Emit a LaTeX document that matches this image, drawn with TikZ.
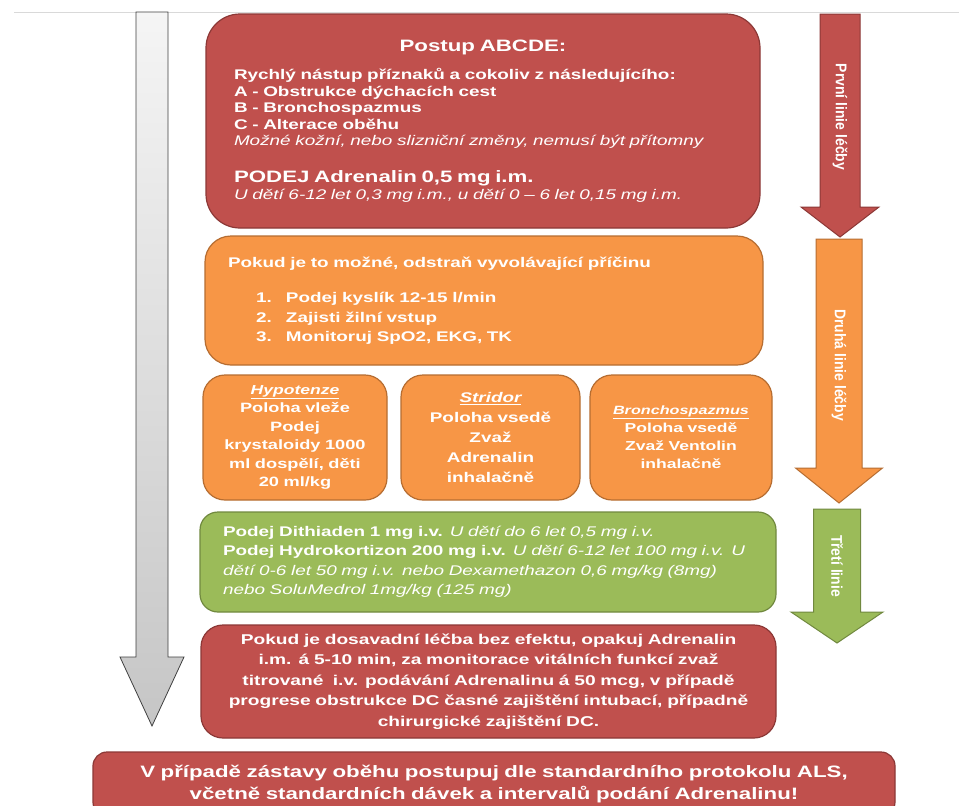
\documentclass[tikz,border=0pt]{standalone}
\usepackage{fontspec}
\setmainfont[FakeStretch=1.35]{Liberation Sans}
\newfontfamily\arrowfont[FakeStretch=0.9]{Liberation Sans}
\definecolor{abcRed}{HTML}{C0504D}
\definecolor{abcRedLine}{HTML}{8C3836}
\definecolor{abcOrange}{HTML}{F79646}
\definecolor{abcOrangeLine}{HTML}{B66D31}
\definecolor{abcGreen}{HTML}{9BBB59}
\definecolor{abcGreenLine}{HTML}{71893F}
\begin{document}
\begin{tikzpicture}[
  x=1pt, y=-1pt,
  every node/.style = {
    text=white,
    inner sep=0pt,
    font=\bfseries\fontsize{14}{16.5}\selectfont
  },
  card/.style={draw, line width=1.2pt, rounded corners=22pt},
  redcard/.style={card, fill=abcRed, draw=abcRedLine},
  orangecard/.style={card, fill=abcOrange, draw=abcOrangeLine},
  greencard/.style={card, fill=abcGreen, draw=abcGreenLine},
  lbl/.style={rotate=-90, font=\arrowfont\bfseries\fontsize{15.5}{15.5}\selectfont}
]
    \clip (0,0) rectangle (959,806);
    \fill[white] (0,0) rectangle (959,806);
    \draw[gray!30, line width=0.8pt] (14,12) -- (959,12);
    \path[draw=black!75, line width=0.8pt, top color=gray!8, bottom color=gray!45]
      (136,12) -- (168,12) -- (168,657) -- (184,657) -- (152,726)
      -- (120,657) -- (136,657) -- cycle;
    \foreach \cx/\ya/\yb/\yc/\sw/\hw/\col/\nm/\ym/\txt in {
      840/14/207/237/20/39/abcRed/first/117/{První linie léčby},
      839/239/468/503/23/43.5/abcOrange/second/365/{Druhá linie léčby},
      837/509/612/643/23.5/46/abcGreen/third/566/{Třetí linie}
    }{
        \filldraw[fill=\col, draw=\col Line, line width=1pt]
          (\cx-\sw,\ya) -- (\cx+\sw,\ya) -- (\cx+\sw,\yb) -- (\cx+\hw,\yb)
          -- (\cx,\yc) -- (\cx-\hw,\yb) -- (\cx-\sw,\yb) -- cycle;
        \node[lbl] (\nm) at (\cx,\ym) {\txt};
    }
    \node[redcard, rounded corners=34pt, minimum width=554pt, minimum height=214pt,
      text width=498pt, align=left] (abcde) at (483,121) {%
      {\fontsize{16.5}{16.5}\selectfont\hfill Postup ABCDE:\hfill\mbox{}}\\[12pt]
      Rychlý nástup příznaků a cokoliv z následujícího:\\
      A - Obstrukce dýchacích cest\\
      B - Bronchospazmus\\
      C - Alterace oběhu\\
      {\mdseries\itshape Možné kožní, nebo slizniční změny, nemusí být přítomny}\\[20pt]
      {\fontsize{16.5}{16.5}\selectfont PODEJ Adrenalin 0,5 mg i.m.}\\[1pt]
      {\mdseries\itshape U dětí 6-12 let 0,3 mg i.m., u dětí 0 – 6 let 0,15 mg i.m.}};
    \node[orangecard, rounded corners=26pt, minimum width=558pt, minimum height=129pt,
      text width=512pt, align=left] (cause) at (484,300.5) {%
      Pokud je to možné, odstraň vyvolávající příčinu\\[19pt]
      \hspace*{28pt}\makebox[30pt][l]{1.}Podej kyslík 12-15 l/min\\[3pt]
      \hspace*{28pt}\makebox[30pt][l]{2.}Zajisti žilní vstup\\[3pt]
      \hspace*{28pt}\makebox[30pt][l]{3.}Monitoruj SpO2, EKG, TK};
    \node[orangecard, minimum width=184pt, minimum height=125pt, text width=164pt,
      align=center, font=\bfseries\fontsize{13.5}{18.5}\selectfont] (hypo) at (295,437.5) {%
      {\fontsize{13}{13}\selectfont\underline{\itshape Hypotenze}}\\
      Poloha vleže\\ Podej\\ krystaloidy 1000\\ ml dospělí, děti\\ 20 ml/kg};
    \node[orangecard, minimum width=179pt, minimum height=125pt, text width=160pt,
      align=center, font=\bfseries\fontsize{14}{20}\selectfont] (stridor) at (490.5,437.5) {%
      \underline{\itshape Stridor}\\ Poloha vsedě\\ Zvaž\\ Adrenalin\\ inhalačně};
    \node[orangecard, minimum width=182pt, minimum height=125pt, text width=164pt,
      align=center, font=\bfseries\fontsize{13}{18}\selectfont] (broncho) at (681,437.5) {%
      {\fontsize{12}{12}\selectfont\underline{\itshape Bronchospazmus}}\\
      Poloha vsedě\\ Zvaž Ventolin\\ inhalačně};
    \node[greencard, rounded corners=18pt, minimum width=576pt, minimum height=100pt,
      text width=530pt, font=\bfseries\fontsize{14}{19.5}\selectfont] (meds) at (488,562) {%
      Podej Dithiaden 1 mg i.v. {\mdseries\itshape U dětí do 6 let 0,5 mg i.v.}\\
      Podej Hydrokortizon 200 mg i.v. {\mdseries\itshape U dětí 6-12 let 100 mg i.v. U}\linebreak
      {\mdseries\itshape dětí 0-6 let 50 mg i.v. nebo Dexamethazon 0,6 mg/kg (8mg)}\linebreak
      {\mdseries\itshape nebo SoluMedrol 1mg/kg (125 mg)}};
    \node[redcard, minimum width=575pt, minimum height=113pt, text width=560pt,
      align=center, font=\bfseries\fontsize{14.2}{20.5}\selectfont] (repeat) at (488.5,681.5) {%
      Pokud je dosavadní léčba bez efektu, opakuj Adrenalin\\
      i.m. á 5-10 min, za monitorace vitálních funkcí zvaž\\
      titrované\ \ i.v. podávání Adrenalinu á 50 mcg, v případě\\
      progrese obstrukce DC časné zajištění intubací, případně\\
      chirurgické zajištění DC.};
    \node[redcard, rounded corners=14pt, minimum width=802pt, minimum height=64pt,
      text width=780pt, align=center, font=\bfseries\fontsize{16.5}{22}\selectfont] (als) at (494,784) {%
      V případě zástavy oběhu postupuj dle standardního protokolu ALS,\\
      včetně standardních dávek a intervalů podání Adrenalinu!};
\end{tikzpicture}
\end{document}
